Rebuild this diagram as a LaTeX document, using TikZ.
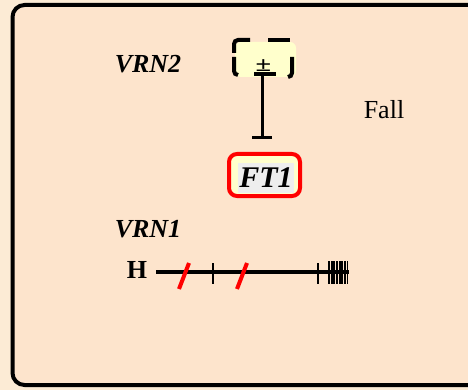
\documentclass[tikz,border=0pt]{standalone}
\usepackage{fontspec}
\setmainfont{Liberation Serif}
\usetikzlibrary{arrows.meta}
\definecolor{outbg}{HTML}{FCEBD5}
\definecolor{inbg}{HTML}{FDE4CC}
\definecolor{paleyel}{HTML}{FFFFCC}
\definecolor{grayfill}{HTML}{EEEEEE}
\definecolor{myred}{HTML}{FF0000}
\tikzset{
  genelbl/.style={font=\fontsize{26}{28}\selectfont\bfseries\itshape, inner sep=0pt},
  plainlbl/.style={font=\fontsize{26}{28}\selectfont, inner sep=0pt},
  dashseg/.style={line width=4pt, rounded corners=4pt},
  thin tick/.style={line width=1.6pt},
  redslash/.style={myred, line width=4pt},
}
\begin{document}
\begin{tikzpicture}[x=1pt,y=-1pt]
\useasboundingbox (0,0) rectangle (468,390);
\fill[outbg] (0,0) rectangle (468,390);
\begin{scope}
\clip (0,0) rectangle (468,390);
\draw[line width=4pt, fill=inbg, rounded corners=12pt] (12.5,5) rectangle (490,385);
\end{scope}

% labels
\node[genelbl] (vrn2) at (148,64) {VRN2};
\node[genelbl] (vrn1) at (148,229) {VRN1};
\node[plainlbl] (fall) at (384,110) {Fall};
\node[font=\fontsize{26}{28}\selectfont\bfseries, inner sep=0pt] (h) at (137,270) {H};

% VRN2 box (fill + hand-drawn dashes)
\node[fill=paleyel, rounded corners=6pt, minimum width=61pt, minimum height=35pt,
      inner sep=0pt] (vbox) at (265.5,59.5) {};
\node[font=\fontsize{21}{22}\selectfont\bfseries, inner sep=0pt, xscale=1.35, transform shape] (pm) at (263.5,65.5) {±};
\draw[dashseg] (234,53) -- (234,40) -- (250,40);
\draw[dashseg] (268,40) -- (290,40);
\draw[dashseg] (292,57) -- (292,77) -- (288,77);
\draw[dashseg] (234,57) -- (234,75) -- (238,75);
\draw[dashseg] (254,74.5) -- (276,74.5);
\coordinate (vbot) at (262,74);

% FT1 box
\node[draw=myred, line width=4pt, fill=paleyel, rounded corners=8pt,
      minimum width=71pt, minimum height=42pt, inner sep=0pt] (ft) at (264.5,175) {};
\node[fill=grayfill, inner sep=1pt, minimum width=52pt, minimum height=30pt,
      font=\fontsize{30}{32}\selectfont\bfseries\itshape] (ftl) at (266,178) {FT1};

% inhibition
\draw[line width=3pt, -{Bar[width=20pt,line width=3pt]}, shorten >=13pt]
  (vbot) -- (vbot |- ft.north);

% gene model
\coordinate (gs) at (156,272);
\coordinate (ge) at (349,272);
\draw[line width=3.2pt] (gs) -- (ge);
\draw[thin tick] (213,263) -- (213,284);
\draw[thin tick] (318,263) -- (318,284);
\foreach \i in {0,...,7} {
  \draw[line width=1.8pt] ({329+\i*2.65},261) -- ({329+\i*2.65},284);
}
\draw[redslash] (179,289) -- (189,263);
\draw[redslash] (237,289) -- (247,263);
\end{tikzpicture}
\end{document}
